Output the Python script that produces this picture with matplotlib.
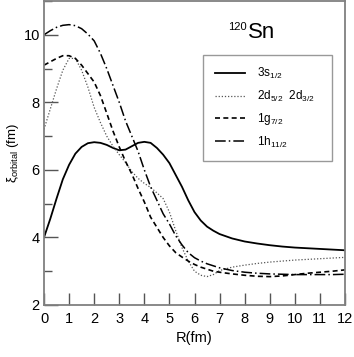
import matplotlib
matplotlib.use('Agg')
import matplotlib.pyplot as plt
from matplotlib.ticker import MultipleLocator

plt.rcParams['font.family'] = ['Liberation Sans', 'DejaVu Sans']
plt.rcParams['mathtext.default'] = 'regular'

r = [0, 0.25, 0.5, 0.75, 1.0, 1.25, 1.5, 1.75, 2.0, 2.25, 2.5, 2.75, 3.0,
     3.25, 3.5, 3.75, 4.0, 4.25, 4.5, 4.75, 5.0, 5.25, 5.5, 5.75, 6.0,
     6.25, 6.5, 6.75, 7.0, 7.5, 8.0, 8.5, 9.0, 9.5, 10.0, 10.5, 11.0,
     11.5, 12.0]

xi_3s = [4.0, 4.55, 5.15, 5.72, 6.15, 6.48, 6.68, 6.79, 6.82, 6.8, 6.74,
         6.65, 6.58, 6.6, 6.7, 6.8, 6.83, 6.8, 6.65, 6.45, 6.2, 5.85, 5.5,
         5.1, 4.75, 4.5, 4.32, 4.2, 4.1, 3.97, 3.88, 3.82, 3.77, 3.73, 3.7,
         3.68, 3.66, 3.64, 3.62]

xi_2d = [7.2, 7.8, 8.4, 8.95, 9.3, 9.3, 8.95, 8.45, 7.85, 7.4, 7.0, 6.7,
         6.45, 6.22, 5.95, 5.75, 5.6, 5.48, 5.32, 5.15, 4.75, 4.2, 3.7, 3.3,
         3.0, 2.88, 2.84, 2.9, 3.02, 3.12, 3.18, 3.23, 3.27, 3.3, 3.33, 3.35,
         3.37, 3.39, 3.41]

xi_1g = [9.1, 9.2, 9.3, 9.38, 9.38, 9.3, 9.1, 8.85, 8.6, 8.2, 7.68, 7.15,
         6.68, 6.25, 5.88, 5.45, 5.05, 4.6, 4.3, 4.0, 3.75, 3.55, 3.42, 3.3,
         3.2, 3.12, 3.06, 3.0, 2.97, 2.92, 2.88, 2.85, 2.84, 2.86, 2.9, 2.94,
         2.97, 3.0, 3.04]

xi_1h = [10.0, 10.12, 10.22, 10.28, 10.3, 10.27, 10.18, 10.02, 9.82, 9.45,
         9.0, 8.5, 8.0, 7.45, 7.0, 6.55, 6.0, 5.5, 5.1, 4.7, 4.4, 4.05, 3.78,
         3.55, 3.4, 3.3, 3.22, 3.16, 3.1, 3.02, 2.97, 2.94, 2.92, 2.91, 2.9,
         2.9, 2.9, 2.9, 2.91]

fig = plt.figure(figsize=(3.54, 3.57), dpi=100)
ax = fig.add_axes([0.1243, 0.1457, 0.8503, 0.8515])

ax.plot(r, xi_3s, color='black', lw=1.3, ls='-', label='3s$_{1/2}$')
ax.plot(r, xi_2d, color='#555555', lw=0.9, ls=(0, (1, 1.5)),
        label='2d$_{5/2}$  2d$_{3/2}$')
ax.plot(r, xi_1g, color='black', lw=1.2, ls=(0, (3, 2)), label='1g$_{7/2}$')
ax.plot(r, xi_1h, color='black', lw=1.1, ls=(0, (7, 2, 1, 2)),
        label='1h$_{11/2}$')

ax.set_xlim(0, 12)
ax.set_ylim(2, 11)
ax.xaxis.set_major_locator(MultipleLocator(1))
ax.yaxis.set_major_locator(MultipleLocator(2))
ax.yaxis.set_minor_locator(MultipleLocator(1))
ax.tick_params(which='both', direction='in', color='#555555', labelsize=10.5,
               width=1)
ax.tick_params(axis='x', which='major', length=9, pad=5)
ax.tick_params(axis='y', which='major', length=10, pad=3)
ax.tick_params(axis='y', which='minor', length=6)
for s in ax.spines.values():
    s.set_color('#808080')
    s.set_linewidth(1.3)

ax.set_xlabel('R(fm)', fontsize=10.5, labelpad=4)
ax.set_ylabel(r'$\xi_{orbital}$ (fm)', fontsize=9.5)
ax.yaxis.set_label_coords(-0.078, 0.5)

ax.text(8.12, 9.9, 'Sn', fontsize=16, ha='left', va='baseline')
ax.text(8.08, 10.15, '120', fontsize=8, ha='right', va='baseline')

leg = ax.legend(loc='upper left', bbox_to_anchor=(0.528, 0.724, 0.43, 0.1),
                mode='expand', borderaxespad=0,
                frameon=True, fancybox=False, edgecolor='#808080',
                fontsize=8.5, handlelength=2.6, labelspacing=0.62,
                borderpad=1.0, handletextpad=0.95)
leg.get_frame().set_linewidth(1)

fig.savefig('out.png', dpi=100)
